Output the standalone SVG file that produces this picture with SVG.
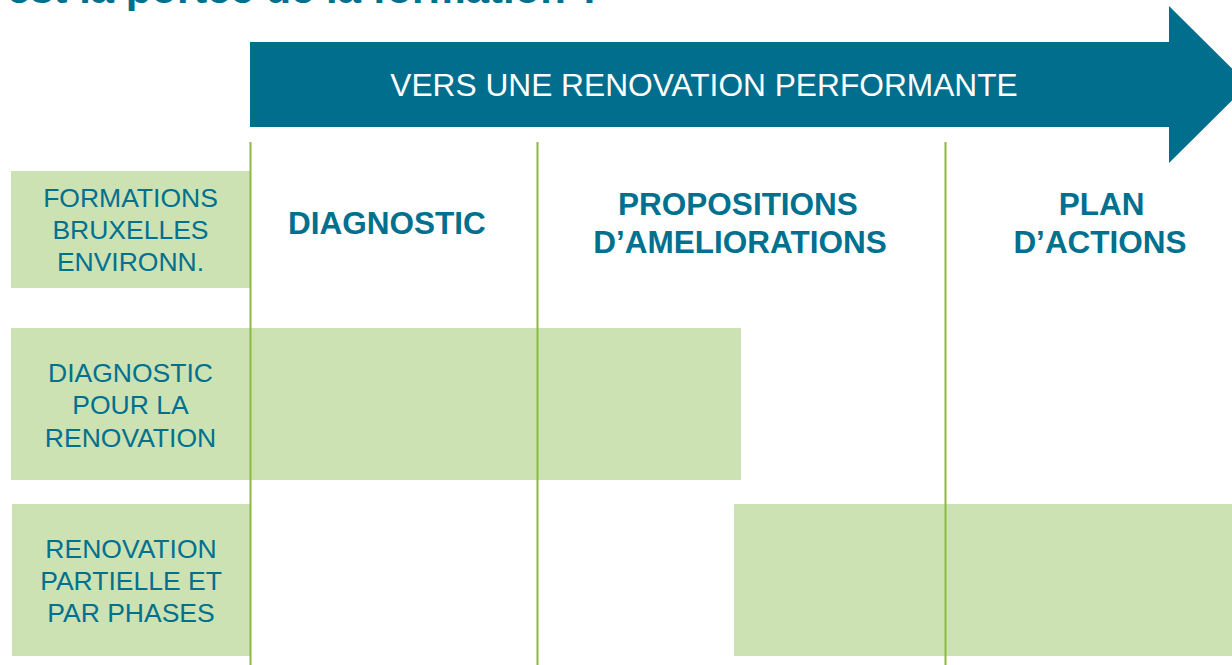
<svg xmlns="http://www.w3.org/2000/svg" width="1232" height="665" viewBox="0 0 1232 665">
<style>
.box{fill:#CDE2B3;}
.lbl{font-family:"Liberation Sans",Arial,sans-serif;font-size:26.5px;fill:#00708F;text-anchor:middle;}
.hdr{font-family:"Liberation Sans",Arial,sans-serif;font-size:31.5px;font-weight:bold;fill:#00708F;text-anchor:middle;}
.vline{stroke:#8DB93F;stroke-width:2;fill:none;}
</style>
<rect width="1232" height="665" fill="#ffffff"/>
<text x="7" y="3" font-family="'Liberation Sans',Arial,sans-serif" font-size="41" font-weight="bold" fill="#00708F" textLength="596" lengthAdjust="spacingAndGlyphs">est la portée de la formation ?</text>
<g id="arrow">
<path d="M250,42 L1169,42 L1169,6 L1248,84.5 L1169,163 L1169,127 L250,127 Z" fill="#006E8C"/>
<text x="704" y="96" font-family="'Liberation Sans',Arial,sans-serif" font-size="31.7" fill="#ffffff" text-anchor="middle">VERS UNE RENOVATION PERFORMANTE</text>
</g>
<g id="row1-label">
<rect class="box" x="11" y="171" width="239" height="117"/>
<text class="lbl" x="130.5" y="207">FORMATIONS</text>
<text class="lbl" x="130.5" y="239">BRUXELLES</text>
<text class="lbl" x="130.5" y="271">ENVIRONN.</text>
</g>
<g id="row2-label">
<rect class="box" x="11" y="328" width="240" height="152"/>
<text class="lbl" x="130.5" y="382">DIAGNOSTIC</text>
<text class="lbl" x="130.5" y="414">POUR LA</text>
<text class="lbl" x="130.5" y="446.5">RENOVATION</text>
</g>
<g id="row2-bar">
<rect class="box" x="250" y="328" width="491" height="152"/>
</g>
<g id="row3-label">
<rect class="box" x="12" y="504" width="239" height="152"/>
<text class="lbl" x="131" y="558">RENOVATION</text>
<text class="lbl" x="131" y="590">PARTIELLE ET</text>
<text class="lbl" x="131" y="621.5">PAR PHASES</text>
</g>
<g id="row3-bar">
<rect class="box" x="734" y="504" width="498" height="152"/>
</g>
<g id="connectors">
<line class="vline" x1="250.5" y1="142" x2="250.5" y2="665"/>
<line class="vline" x1="537.5" y1="142" x2="537.5" y2="665"/>
<line class="vline" x1="945.5" y1="142" x2="945.5" y2="665"/>
</g>
<g id="col-diagnostic">
<text class="hdr" x="387" y="233.5">DIAGNOSTIC</text>
</g>
<g id="col-propositions">
<text class="hdr" x="738" y="215">PROPOSITIONS</text>
<text class="hdr" x="740" y="252.5">D’AMELIORATIONS</text>
</g>
<g id="col-plan">
<text class="hdr" x="1101.5" y="215">PLAN</text>
<text class="hdr" x="1100" y="252.5">D’ACTIONS</text>
</g>
</svg>
